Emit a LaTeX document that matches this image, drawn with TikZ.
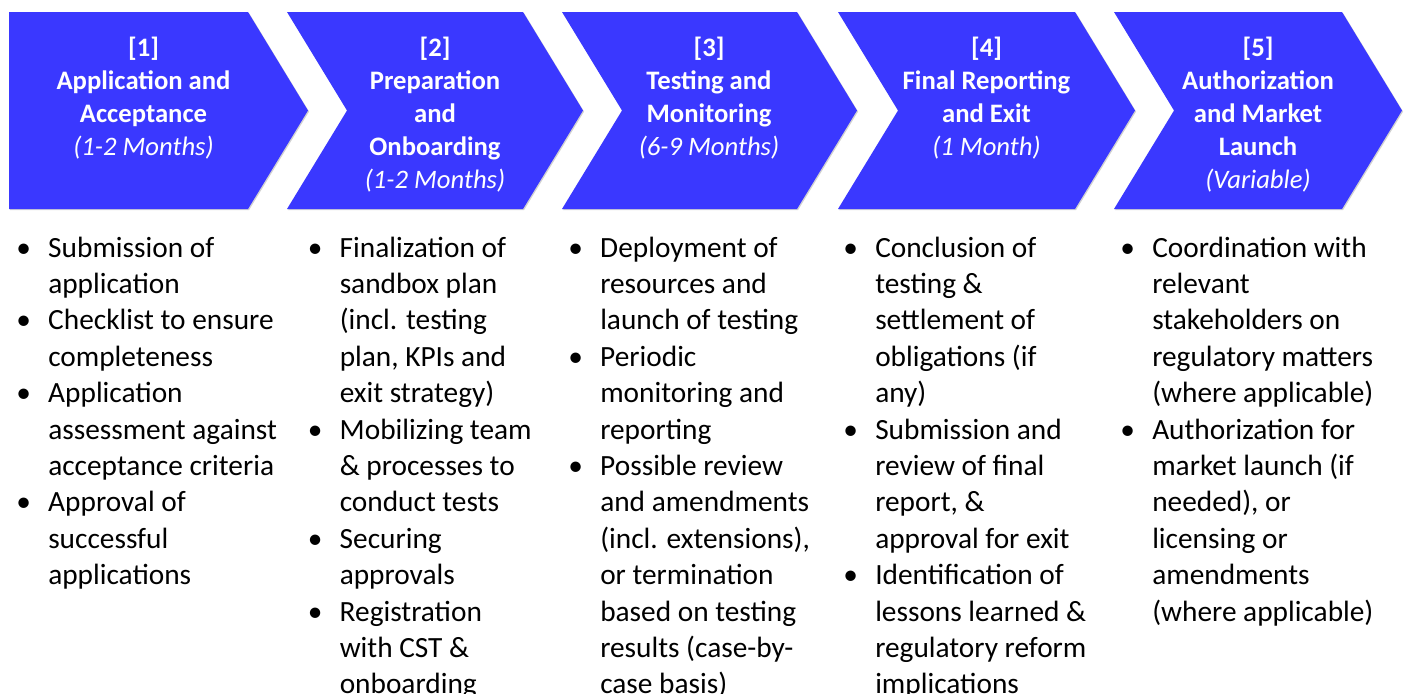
\documentclass[tikz,border=0pt]{standalone}
\usepackage{fontspec}
\setmainfont{Carlito}
\usepackage{xcolor}
\usetikzlibrary{shadows,positioning}

\definecolor{stageblue}{RGB}{58,56,255}

% hanging bullet for the task lists
\newcommand{\bul}{\llap{\makebox[24pt][l]{\textbullet}}}
% top-aligned blocks, so that "base" is the first line
\newcommand{\toplines}[2]{\begin{tabular}[t]{@{}#1@{}}#2\end{tabular}}

\begin{document}
\begin{tikzpicture}[
  x=0.75pt,y=-0.75pt,
  chevron/.style={fill=stageblue,
                  general shadow={fill=black,opacity=.18,shadow xshift=.8pt,shadow yshift=-.8pt}},
  stagehead/.style={anchor=base,inner sep=0pt,text=white,
                    font=\fontsize{20pt}{24.75pt}\selectfont\bfseries},
  tasks/.style={anchor=base west,inner sep=0pt,
                font=\fontsize{22pt}{27.3pt}\selectfont}
]
  \useasboundingbox (0,0) rectangle (1410,693);
  \clip (0,0) rectangle (1410,693);

  % phase arrows
  \path[chevron] (9,12) -- (248,12) -- (308,110.5) -- (248,209) -- (9,209) -- cycle;
  \path[chevron] (287,12) -- (523,12) -- (583,110.5) -- (523,209) -- (287,209)
    -- (347,110.5) -- cycle;
  \path[chevron] (562,12) -- (797,12) -- (857,110.5) -- (797,209) -- (562,209)
    -- (622,110.5) -- cycle;
  \path[chevron] (838,12) -- (1075,12) -- (1135,110.5) -- (1075,209) -- (838,209)
    -- (898,110.5) -- cycle;
  \path[chevron] (1114,12) -- (1342,12) -- (1402,110.5) -- (1342,209) -- (1114,209)
    -- (1174,110.5) -- cycle;

  % phase titles
  \node[stagehead] (h1) at (143.5,56) {\toplines{c}{[1]\\Application and\\Acceptance\\
    \normalfont\itshape (1-2 Months)}};
  \node[stagehead] (h2) at (435,56) {\toplines{c}{[2]\\Preparation\\and\\Onboarding\\
    \normalfont\itshape (1-2 Months)}};
  \node[stagehead] (h3) at (709,56) {\toplines{c}{[3]\\Testing and\\Monitoring\\
    \normalfont\itshape (6-9 Months)}};
  \node[stagehead] (h4) at (986.5,56) {\toplines{c}{[4]\\Final Reporting\\and Exit\\
    \normalfont\itshape (1 Month)}};
  \node[stagehead] (h5) at (1258,56) {\toplines{c}{[5]\\Authorization\\and Market\\Launch\\
    \normalfont\itshape (Variable)}};

  % what happens in each phase
  \node[tasks] (t1) at (48,257) {\toplines{l}{\bul Submission of\\application\\
    \bul Checklist to ensure\\completeness\\
    \bul Application\\assessment against\\acceptance criteria\\
    \bul Approval of\\successful\\applications}};
  \node[tasks] (t2) at (339.5,257) {\toplines{l}{\bul Finalization of\\sandbox plan\\
    (incl. testing\\plan, KPIs and\\exit strategy)\\
    \bul Mobilizing team\\\& processes to\\conduct tests\\
    \bul Securing\\approvals\\
    \bul Registration\\with CST \&\\onboarding}};
  \node[tasks] (t3) at (600,257) {\toplines{l}{\bul Deployment of\\resources and\\launch of testing\\
    \bul Periodic\\monitoring and\\reporting\\
    \bul Possible review\\and amendments\\(incl. extensions),\\or termination\\
    based on testing\\results (case-by-\\case basis)}};
  \node[tasks] (t4) at (875,257) {\toplines{l}{\bul Conclusion of\\testing \&\\settlement of\\
    obligations (if\\any)\\
    \bul Submission and\\review of final\\report, \&\\approval for exit\\
    \bul Identification of\\lessons learned \&\\regulatory reform\\implications}};
  \node[tasks] (t5) at (1152,257) {\toplines{l}{\bul Coordination with\\relevant\\stakeholders on\\
    regulatory matters\\(where applicable)\\
    \bul Authorization for\\market launch (if\\needed), or\\licensing or\\
    amendments\\(where applicable)}};
\end{tikzpicture}
\end{document}
